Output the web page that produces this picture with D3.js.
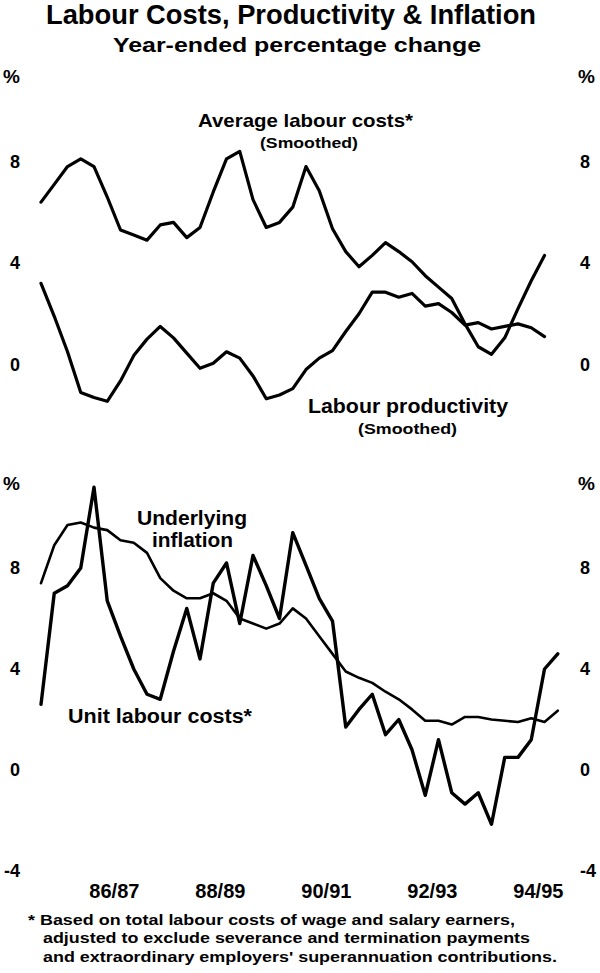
<!DOCTYPE html>
<html>
<head>
<meta charset="utf-8">
<script src="https://cdn.jsdelivr.net/npm/d3@7"></script>
<style>
  html, body { margin: 0; padding: 0; background: #fff; }
  svg text { font-family: "Liberation Sans", Arial, Helvetica, sans-serif; font-weight: bold; fill: #000; }
</style>
</head>
<body>
<svg id="chart" width="600" height="973"></svg>
<script>
// Quarterly observations, Sep-1985 quarter (index 0) to Jun-1995 quarter (index 39)
const firstQuarter = "Sep-1985";
const avgLabourCosts = [6.4, 7.1, 7.8, 8.1, 7.8, 6.6, 5.3, 5.1, 4.9, 5.5, 5.6, 5.0, 5.4, 6.8, 8.1, 8.4, 6.5, 5.4, 5.6, 6.2,
                        7.8, 6.85, 5.35, 4.45, 3.85, 4.3, 4.8, 4.45, 4.05, 3.5, 3.05, 2.6, 1.6, 0.7, 0.4, 1.05, 2.2, 3.3, 4.3];
const labourProductivity = [3.2, 1.9, 0.5, -1.1, -1.3, -1.45, -0.65, 0.35, 1.0, 1.5, 1.05, 0.45, -0.15, 0.05, 0.5, 0.25, -0.45, -1.35, -1.2, -0.95,
                            -0.2, 0.25, 0.55, 1.3, 2.0, 2.85, 2.85, 2.65, 2.8, 2.3, 2.4, 2.05, 1.55, 1.65, 1.4, 1.5, 1.6, 1.45, 1.1];
const underlyingInflation = [7.4, 8.9, 9.7, 9.8, 9.6, 9.5, 9.1, 9.0, 8.6, 7.6, 7.1, 6.8, 6.8, 7.0, 6.7, 6.0, 5.8, 5.6, 5.8, 6.4,
                             6.0, 5.3, 4.6, 3.9, 3.65, 3.45, 3.1, 2.8, 2.4, 1.95, 1.95, 1.8, 2.1, 2.1, 2.0, 1.95, 1.9, 2.05, 1.9, 2.35];
const unitLabourCosts = [2.6, 7.0, 7.3, 8.0, 11.2, 6.7, 5.3, 4.0, 3.0, 2.8, 4.7, 6.4, 4.4, 7.4, 8.2, 5.8, 8.5, 7.3, 6.0, 9.4,
                         8.1, 6.8, 5.9, 1.7, 2.4, 3.0, 1.4, 2.0, 0.8, -1.0, 1.2, -0.9, -1.35, -0.9, -2.15, 0.5, 0.5, 1.2, 4.0, 4.6];
// Fiscal-year labels, centred on each financial year (quarter index)
const xTickLabels = ["86/87", "88/89", "90/91", "92/93", "94/95"];
const xTickPositions = [5.5, 13.5, 21.5, 29.5, 37.5];
const yTicksTop = [0, 4, 8];
const yTicksBottom = [-4, 0, 4, 8];
const yDomain = [-4, 12];

const title = "Labour Costs, Productivity & Inflation";
const subtitle = "Year-ended percentage change";
const footnote = [
  "* Based on total labour costs of wage and salary earners,",
  "adjusted to exclude severance and termination payments",
  "and extraordinary employers' superannuation contributions."
];

const svg = d3.select("#chart");
svg.append("rect").attr("width", 600).attr("height", 973).attr("fill", "#fff");

const x = d3.scaleLinear().domain([0, 39]).range([41, 557.75]);
const yTop = d3.scaleLinear().domain(yDomain).range([466, 60]);
const yBot = d3.scaleLinear().domain(yDomain).range([871, 467]);

// Titles
svg.append("text").attr("x", 46).attr("y", 24).attr("font-size", 27)
  .attr("textLength", 490).attr("lengthAdjust", "spacingAndGlyphs").text(title);
svg.append("text").attr("x", 113).attr("y", 52).attr("font-size", 21)
  .attr("textLength", 368).attr("lengthAdjust", "spacingAndGlyphs").text(subtitle);

function yAxes(scale, ticks) {
  const fmt = d => String(d); // plain hyphen-minus as in the original
  const left = d3.axisLeft(scale).tickValues(ticks).tickSize(0).tickPadding(0).tickFormat(fmt);
  const right = d3.axisRight(scale).tickValues(ticks).tickSize(0).tickPadding(0).tickFormat(fmt);
  const gl = svg.append("g").attr("transform", "translate(20,0)").call(left);
  const gr = svg.append("g").attr("transform", "translate(580,0)").call(right);
  [gl, gr].forEach(g => {
    g.select(".domain").remove();
    g.selectAll("text").attr("font-size", 18).attr("font-family", "Liberation Sans, Arial, sans-serif")
      .attr("font-weight", "bold").attr("fill", "#000");
  });
  // % unit labels
  svg.append("text").attr("x", 3).attr("y", scale(12) + 23).attr("font-size", 19).text("%");
  svg.append("text").attr("x", 578).attr("y", scale(12) + 23).attr("font-size", 19).text("%");
}
yAxes(yTop, yTicksTop);
yAxes(yBot, yTicksBottom);

// X axis labels
const xAxis = d3.axisBottom(x).tickValues(xTickPositions).tickSize(0).tickPadding(0)
  .tickFormat((d, i) => xTickLabels[i]);
const gx = svg.append("g").attr("transform", "translate(0,884)").call(xAxis);
gx.select(".domain").remove();
gx.selectAll("text").attr("font-size", 20).attr("font-family", "Liberation Sans, Arial, sans-serif")
  .attr("font-weight", "bold").attr("fill", "#000").attr("dy", "0.72em");

// Lines
function drawLine(values, yScale, width) {
  const line = d3.line().x((d, i) => x(i)).y(d => yScale(d));
  svg.append("path").datum(values).attr("d", line)
    .attr("fill", "none").attr("stroke", "#000").attr("stroke-width", width)
    .attr("stroke-linejoin", "round").attr("stroke-linecap", "round");
}
drawLine(avgLabourCosts, yTop, 3.2);
drawLine(labourProductivity, yTop, 3.2);
drawLine(underlyingInflation, yBot, 2.6);
drawLine(unitLabourCosts, yBot, 3.4);

// Series labels
function label(txt, xx, yy, size, len) {
  svg.append("text").attr("x", xx).attr("y", yy).attr("font-size", size)
    .attr("textLength", len).attr("lengthAdjust", "spacingAndGlyphs").text(txt);
}
label("Average labour costs*", 198, 127, 19, 215);
label("(Smoothed)", 260, 148, 15, 98);
label("Labour productivity", 308, 413, 20, 200);
label("(Smoothed)", 358, 434, 15, 99);
label("Underlying", 137, 525, 20, 110);
label("inflation", 152, 547, 20, 81);
label("Unit labour costs*", 68, 723, 20, 184);

// Footnote
label(footnote[0], 28, 925, 15, 487);
label(footnote[1], 43, 943, 15, 487);
label(footnote[2], 43, 962, 15, 514);
</script>
</body>
</html>
